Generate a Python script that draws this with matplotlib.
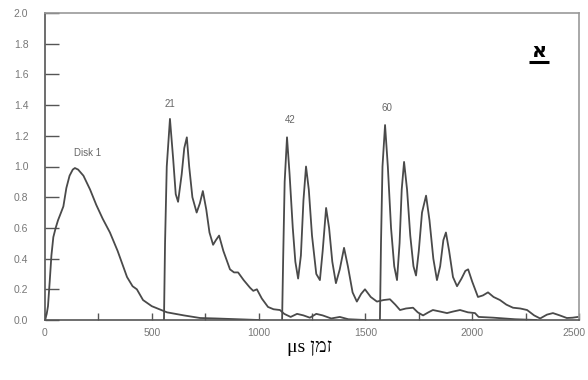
import matplotlib
matplotlib.use("Agg")
import matplotlib.pyplot as plt
from matplotlib.ticker import MultipleLocator
from matplotlib.transforms import ScaledTranslation

# ---- data ----
disk1_x = [0, 8, 14, 22, 30, 39, 50, 61, 75, 86, 100, 115, 130, 140, 155, 180, 211, 240, 270, 304,
           340, 384, 410, 430, 459, 500, 571, 650, 726, 800, 900, 1000]
disk1_y = [0, 0.04, 0.09, 0.25, 0.42, 0.54, 0.60, 0.65, 0.70, 0.74, 0.86, 0.94, 0.98, 0.99, 0.98, 0.94,
           0.85, 0.75, 0.66, 0.57, 0.45, 0.28, 0.22, 0.20, 0.13, 0.09, 0.05, 0.03, 0.013, 0.01, 0.005, 0.0]

disk21_x = [557, 562, 570, 585, 600, 612, 623, 640, 652, 664, 675, 690, 710, 725, 739, 755, 770, 787,
            800, 815, 835, 866, 885, 904, 930, 960, 975, 992, 1015, 1044, 1070, 1100, 1120, 1150, 1180,
            1210, 1240, 1270, 1300, 1340, 1380, 1420, 1500]
disk21_y = [0, 0.5, 1.0, 1.31, 1.05, 0.82, 0.77, 0.95, 1.12, 1.19, 1.0, 0.80, 0.70, 0.76, 0.84, 0.72,
            0.57, 0.49, 0.52, 0.55, 0.45, 0.33, 0.31, 0.31, 0.26, 0.21, 0.19, 0.20, 0.14, 0.085, 0.07,
            0.065, 0.04, 0.02, 0.04, 0.03, 0.015, 0.04, 0.03, 0.01, 0.02, 0.005, 0.0]

disk42_x = [1110, 1115, 1122, 1133, 1145, 1160, 1172, 1185, 1198, 1210, 1222, 1235, 1250, 1270, 1287,
            1300, 1316, 1330, 1345, 1362, 1380, 1400, 1418, 1440, 1460, 1480, 1498, 1525, 1554, 1585,
            1615, 1640, 1662, 1690, 1723, 1745, 1770, 1795, 1816, 1850, 1882, 1910, 1943, 1980, 2013,
            2030, 2100, 2200, 2300]
disk42_y = [0, 0.4, 0.9, 1.19, 0.95, 0.6, 0.38, 0.27, 0.42, 0.78, 1.0, 0.85, 0.55, 0.30, 0.26, 0.45,
            0.73, 0.60, 0.38, 0.24, 0.33, 0.47, 0.35, 0.18, 0.12, 0.17, 0.20, 0.15, 0.12, 0.13, 0.135,
            0.10, 0.065, 0.075, 0.08, 0.05, 0.03, 0.05, 0.065, 0.055, 0.045, 0.055, 0.065, 0.05, 0.045,
            0.02, 0.015, 0.005, 0.0]

disk60_x = [1568, 1573, 1580, 1592, 1605, 1620, 1635, 1648, 1660, 1670, 1681, 1695, 1710, 1725, 1737,
            1750, 1765, 1784, 1800, 1818, 1835, 1850, 1865, 1877, 1892, 1910, 1929, 1950, 1968, 1981,
            2000, 2027, 2050, 2074, 2100, 2130, 2160, 2191, 2225, 2257, 2290, 2318, 2350, 2378, 2410,
            2443, 2470, 2495]
disk60_y = [0, 0.5, 1.0, 1.27, 1.0, 0.6, 0.35, 0.26, 0.5, 0.85, 1.03, 0.85, 0.55, 0.35, 0.29, 0.45,
            0.70, 0.81, 0.65, 0.40, 0.26, 0.35, 0.52, 0.57, 0.45, 0.28, 0.22, 0.27, 0.32, 0.33, 0.25,
            0.15, 0.16, 0.18, 0.15, 0.13, 0.10, 0.08, 0.075, 0.065, 0.03, 0.01, 0.035, 0.045, 0.03,
            0.013, 0.015, 0.02]

series_labels = ["Disk 1", "21", "42", "60"]
label_pos_x = [197, 585, 1147, 1600]
label_pos_y = [1.09, 1.41, 1.30, 1.38]

x_ticks = [0, 500, 1000, 1500, 2000, 2500]
y_ticks = [0.0, 0.2, 0.4, 0.6, 0.8, 1.0, 1.2, 1.4, 1.6, 1.8, 2.0]

panel_letter = "א"
xlabel_logical = "זמן μs"
# matplotlib has no bidi support: build the visual (left-to-right) order
xlabel_visual = "μs " + "זמן"[::-1]

# ---- figure ----
fig = plt.figure(figsize=(5.88, 3.80), dpi=100)
ax = fig.add_axes([45 / 588, 1 - 320 / 380, (579 - 45) / 588, (320 - 13) / 380])

line_color = "#4a4a4a"
for xs, ys in [(disk1_x, disk1_y), (disk21_x, disk21_y), (disk42_x, disk42_y), (disk60_x, disk60_y)]:
    ax.plot(xs, ys, color=line_color, lw=1.3)

for lab, lx, ly in zip(series_labels, label_pos_x, label_pos_y):
    ax.text(lx, ly, lab, fontsize=7, color="#666666", ha="center", va="center",
            family=["Liberation Sans", "DejaVu Sans"])

ax.set_xlim(0, 2500)
ax.set_ylim(0, 2.0)
ax.set_xticks(x_ticks)
ax.set_xticklabels([str(t) for t in x_ticks])
ax.xaxis.set_minor_locator(MultipleLocator(250))
ax.set_yticks(y_ticks)
ax.set_yticklabels([f"{t:.1f}" for t in y_ticks])

ax.tick_params(axis="y", which="major", direction="in", length=10, width=1, color="#555555",
               labelsize=7.5, labelcolor="#777777", pad=12)
ax.tick_params(axis="x", which="both", direction="in", length=5, width=1, color="#555555",
               labelsize=7.5, labelcolor="#777777", pad=6)
for lbl in ax.get_xticklabels() + ax.get_yticklabels():
    lbl.set_family(["Liberation Sans", "DejaVu Sans"])
# keep the last x label inside the canvas
last = ax.get_xticklabels()[-1]
last.set_transform(last.get_transform() + ScaledTranslation(-5 / 100, 0, fig.dpi_scale_trans))

for side in ["left", "bottom"]:
    ax.spines[side].set_color("#555555")
    ax.spines[side].set_linewidth(1.2)
for side in ["top", "right"]:
    ax.spines[side].set_color("#999999")
    ax.spines[side].set_linewidth(1.2)

ax.text(0.925, 0.875, panel_letter, transform=ax.transAxes, fontsize=15, fontweight="bold",
        ha="center", va="center", family=["DejaVu Sans"])
# underline beneath the letter
ax.plot([0.907, 0.943], [0.84, 0.84], transform=ax.transAxes, color="black", lw=2.2,
        solid_capstyle="butt")

fig.text(310 / 588, 1 - 348 / 380, xlabel_visual, fontsize=14, ha="center", va="center",
         family=["Liberation Serif", "DejaVu Serif", "DejaVu Sans"])

fig.savefig("out.png", dpi=100)
